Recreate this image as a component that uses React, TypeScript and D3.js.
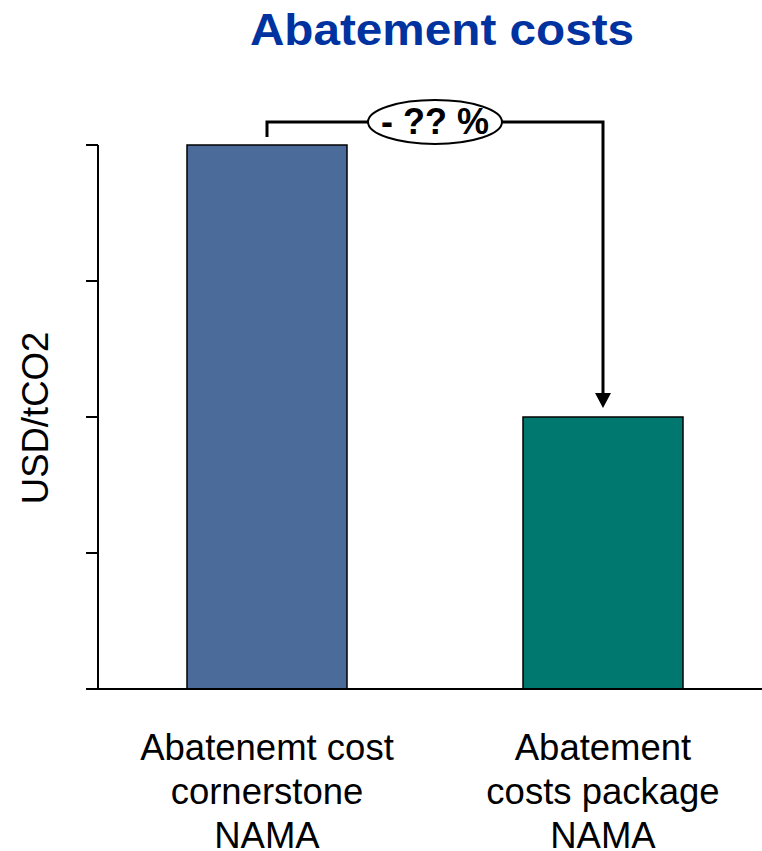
import React from "react";
import * as d3 from "d3";

const categories = ["Abatenemt cost cornerstone NAMA", "Abatement costs package NAMA"];
const labelLines = [["Abatenemt cost", "cornerstone", "NAMA"], ["Abatement", "costs package", "NAMA"]];
const values = [4, 2];
const colors = ["#4B6C9B", "#00786F"];
const yTicks = [0, 1, 2, 3, 4];
const title = "Abatement costs";
const yLabel = "USD/tCO2";
const changeLabel = "- ?? %";

export default function App() {
  const W = 762, H = 851;
  const axisX = 98;
  const x = d3.scalePoint<string>().domain(categories).range([267, 603]);
  const y = d3.scaleLinear().domain([0, 4]).range([689, 145]);
  const bw = 160;
  const c0 = x(categories[0]) as number, c1 = x(categories[1]) as number;
  const bracketY = 122;
  const arrowTip = y(values[1]) - 9;
  return (
    <svg width={W} height={H} style={{ display: "block", position: "absolute", left: 0, top: 0 }}
      fontFamily="Arial, 'Liberation Sans', sans-serif">
      <rect width={W} height={H} fill="#fff" />
      <text transform="translate(442,45) scale(1.06,1)" textAnchor="middle" fontSize={45} fontWeight="bold" fill="#0033A0">{title}</text>
      {categories.map((c, i) => (
        <rect key={c} x={(x(c) as number) - bw / 2} y={y(values[i])} width={bw} height={y(0) - y(values[i])}
          fill={colors[i]} stroke="#000" strokeWidth={1.5} />
      ))}
      <line x1={axisX} x2={axisX} y1={y(4)} y2={y(0)} stroke="#000" strokeWidth={2} />
      <line x1={86} x2={W} y1={y(0)} y2={y(0)} stroke="#000" strokeWidth={2} />
      {yTicks.map(t => (
        <line key={t} x1={86} x2={axisX} y1={y(t)} y2={y(t)} stroke="#000" strokeWidth={2} />
      ))}
      <text transform={`translate(48,418) rotate(-90)`} textAnchor="middle" fontSize={36.5} fill="#000">{yLabel}</text>
      {labelLines.map((lines, i) => (
        <text key={i} textAnchor="middle" fontSize={36.5} fill="#000">
          {lines.map((l, j) => (
            <tspan key={j} x={x(categories[i])} y={760 + j * 44}>{l}</tspan>
          ))}
        </text>
      ))}
      <path d={`M${c0},${y(values[0]) - 8} V${bracketY} H${c1} V${arrowTip - 14}`} fill="none" stroke="#000" strokeWidth={3} />
      <path d={`M${c1 - 8},${arrowTip - 15} L${c1 + 8},${arrowTip - 15} L${c1},${arrowTip} Z`} fill="#000" />
      <ellipse cx={435} cy={bracketY} rx={67} ry={22} fill="#fff" stroke="#000" strokeWidth={2} />
      <text x={435} y={bracketY + 12} textAnchor="middle" fontSize={36} fontWeight="bold" fill="#000">{changeLabel}</text>
    </svg>
  );
}
